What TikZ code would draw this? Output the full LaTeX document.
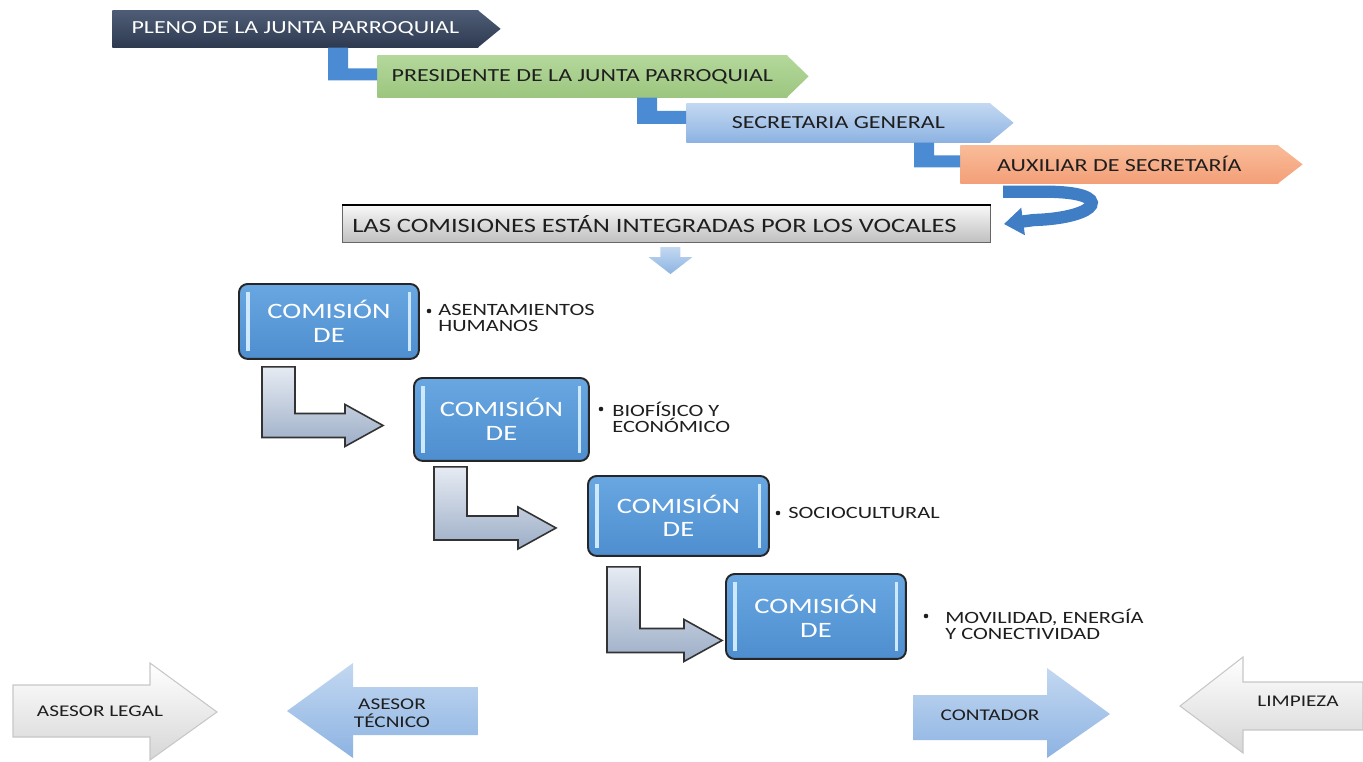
\documentclass[tikz,border=0pt]{standalone}
\usepackage{fontspec}
\setmainfont{Carlito}[FakeStretch=1.3]
\usetikzlibrary{calc,arrows.meta}
\definecolor{plenoT}{HTML}{4E5D76}
\definecolor{plenoB}{HTML}{2E3A50}
\definecolor{presT}{HTML}{B4D89B}
\definecolor{presB}{HTML}{9CC67F}
\definecolor{secT}{HTML}{C3D8F1}
\definecolor{secB}{HTML}{8DB3E2}
\definecolor{auxT}{HTML}{F9BC98}
\definecolor{auxB}{HTML}{F39F78}
\definecolor{lblue}{HTML}{4B8BD3}
\definecolor{ublue}{HTML}{3F7EC4}
\definecolor{darrow}{HTML}{8DB4E2}
\definecolor{comT}{HTML}{68A7E1}
\definecolor{comB}{HTML}{4E8ECF}
\definecolor{inner}{HTML}{CDE8FF}
\definecolor{bentT}{HTML}{E6EBF3}
\definecolor{bentB}{HTML}{9DAEC7}
\definecolor{txt}{HTML}{1E1E1E}
\tikzset{
  bar/.style={rectangle, inner sep=0pt, anchor=north west, text=txt,
    font=\fontsize{10.5}{12}\selectfont},
  lconn/.style={fill=lblue},
  combox/.style={rectangle, rounded corners=5pt, anchor=north west, draw=black!85,
    line width=1.1pt, top color=comT, bottom color=comB, text=white, align=center,
    font=\fontsize{12.5}{13.5}\selectfont, inner sep=0pt},
  innerline/.style={draw=inner, line width=1.8pt},
  bullettxt/.style={anchor=north west, inner sep=0pt, align=left, text=txt,
    font=\fontsize{9.8}{9}\selectfont},
  bulletdot/.style={circle, fill=txt, inner sep=0pt, minimum size=2.6pt},
  bentarrow/.style={draw=black!80, line width=0.9pt, top color=bentT, bottom color=bentB},
  blueshape/.style={top color=secT, bottom color=secB},
  whiteshape/.style={top color=white, bottom color=black!16, draw=black!22, line width=0.6pt},
  bottxt/.style={text=txt, align=center, inner sep=0pt, font=\fontsize{9.3}{10.5}\selectfont}
}
\newcommand{\innerlines}[1]{%
  \draw[innerline] ($(#1.north west)+(10,9)$) -- ($(#1.south west)+(10,-9)$);
  \draw[innerline] ($(#1.north east)+(-10,9)$) -- ($(#1.south east)+(-10,-9)$);}
\newcommand{\bentarr}[2]{%
  \path[bentarrow] (#1) -- ($(#1)+(33,0)$) |- ($(#2)+(-38,-12)$) -- ($(#2)+(-38,-21)$)
    -- (#2) -- ($(#2)+(-38,21)$) -- ($(#2)+(-38,12)$) -| (#1) -- cycle;}
\begin{document}
\begin{tikzpicture}[x=0.02cm,y=-0.02cm]
\useasboundingbox (0,0) rectangle (1363,761);

% ---- top bars ----
\node[bar, minimum width=7.32cm, minimum height=0.74cm, top color=plenoT, bottom color=plenoB, text=white] (pleno) at (112,10) {PLENO DE LA JUNTA PARROQUIAL};
\shade[top color=plenoT, bottom color=plenoB] ($(pleno.north east)+(-1,0)$) -- ($(pleno.east)+(22,0)$) -- ($(pleno.south east)+(-1,0)$) -- cycle;

\node[bar, minimum width=8.2cm, minimum height=0.84cm, top color=presT, bottom color=presB] (pres) at (377,55) {PRESIDENTE DE LA JUNTA PARROQUIAL};
\shade[top color=presT, bottom color=presB] ($(pres.north east)+(-1,0)$) -- ($(pres.east)+(21,0)$) -- ($(pres.south east)+(-1,0)$) -- cycle;

\node[bar, minimum width=6.08cm, minimum height=0.78cm, top color=secT, bottom color=secB] (sec) at (686,103) {SECRETARIA GENERAL};
\shade[top color=secT, bottom color=secB] ($(sec.north east)+(-1,0)$) -- ($(sec.east)+(23,0)$) -- ($(sec.south east)+(-1,0)$) -- cycle;

\node[bar, minimum width=6.36cm, minimum height=0.76cm, top color=auxT, bottom color=auxB] (aux) at (960,145) {AUXILIAR DE SECRETARÍA};
\shade[top color=auxT, bottom color=auxB] ($(aux.north east)+(-1,0)$) -- ($(aux.east)+(24,0)$) -- ($(aux.south east)+(-1,0)$) -- cycle;

% ---- L connectors ----
\coordinate (l1) at ($(pleno.south west)+(216,0)$);
\fill[lconn] (l1) -- ++(20,0) |- ($(pres.west)+(0,-8)$) -- ($(pres.west)+(0,4)$) -| (l1) -- cycle;
\coordinate (l2) at ($(pres.south west)+(260,0)$);
\fill[lconn] (l2) -- ++(20,0) |- ($(sec.west)+(0,-12)$) -- ($(sec.west)+(0,1)$) -| (l2) -- cycle;
\coordinate (l3) at ($(sec.south west)+(228,0)$);
\fill[lconn] (l3) -- ++(20,0) |- ($(aux.west)+(0,-9)$) -- ($(aux.west)+(0,3)$) -| (l3) -- cycle;

% ---- vocales box ----
\node[bar, minimum width=12.96cm, minimum height=0.74cm, top color=black!3, bottom color=black!25, draw=black!60, line width=0.6pt] (vocales) at (342,205) {};
\node[text=txt, inner sep=0pt, font=\fontsize{11.6}{13}\selectfont] (vocalestxt) at ($(vocales.center)+(-12,0)$) {LAS COMISIONES ESTÁN INTEGRADAS POR LOS VOCALES};
\draw[line width=1.3pt, black] (vocales.north west) -- (vocales.north east);

% ---- U-turn arrow ----
\coordinate (us) at ($(aux.south west)+(43,8)$);
\coordinate (ue) at ($(vocales.east)+(13,0)$);
\draw[ublue, line width=7pt, -{Triangle[length=11pt,width=15pt]}] (us) -- ++(42,0) .. controls +(72,0) and +(66,-2) .. ($(ue)+(30,-4)$) -- (ue);

% ---- down arrow ----
\shade[top color=secT, bottom color=darrow] ($(vocales.south)+(-6,4)$) -- ++(20,0) -- ++(0,10) -- ++(12,0) -- ++(-22,17) -- ++(-22,-17) -- ++(12,0) -- cycle;

% ---- commission boxes ----
\node[combox, minimum width=3.6cm, minimum height=1.5cm] (b1) at (238,283) {COMISIÓN\\DE};
\innerlines{b1}
\node[combox, minimum width=3.5cm, minimum height=1.66cm] (b2) at (413,377) {COMISIÓN\\DE};
\innerlines{b2}
\node[combox, minimum width=3.62cm, minimum height=1.6cm] (b3) at (587,475) {COMISIÓN\\DE};
\innerlines{b3}
\node[combox, minimum width=3.6cm, minimum height=1.7cm] (b4) at (725,573) {COMISIÓN\\DE};
\innerlines{b4}

% ---- bent arrows ----
\coordinate (a1) at ($(b1.south west)+(24,7)$);
\coordinate (t1) at ($(b2.west)+(-30,6)$);
\bentarr{a1}{t1}
\coordinate (a2) at ($(b2.south west)+(21,5)$);
\coordinate (t2) at ($(b3.west)+(-31,12)$);
\bentarr{a2}{t2}
\coordinate (a3) at ($(b3.south west)+(20,10)$);
\coordinate (t3) at ($(b4.west)+(-3,24)$);
\bentarr{a3}{t3}

% ---- bullet texts ----
\node[bulletdot] (d1b) at (429,311) {};
\node[bullettxt] (d1) at (438,304) {ASENTAMIENTOS\\HUMANOS};
\node[bulletdot] (d2b) at (601,409) {};
\node[bullettxt] (d2) at (612,402) {BIOFÍSICO Y\\ECONÓMICO};
\node[bulletdot] (d3b) at (778,513) {};
\node[bullettxt] (d3) at (788,507) {SOCIOCULTURAL};
\node[bulletdot] (d4b) at (926,616) {};
\node[bullettxt] (d4) at (945,609) {MOVILIDAD, ENERGÍA\\Y CONECTIVIDAD};

% ---- bottom arrows ----
\path[whiteshape] (13,685) -- (150,685) -- (150,663) -- (217,712) -- (150,760) -- (150,737) -- (13,737) -- cycle;
\node[bottxt] (legal) at (100,711) {ASESOR LEGAL};
\path[blueshape] (287,711) -- (353,663) -- (353,687) -- (478,687) -- (478,735) -- (353,735) -- (353,758) -- cycle;
\node[bottxt] (tecnico) at (392,713) {ASESOR\\TÉCNICO};
\path[blueshape] (913,695) -- (1047,695) -- (1047,668) -- (1110,714) -- (1047,758) -- (1047,740) -- (913,740) -- cycle;
\node[bottxt] (contador) at (990,715) {CONTADOR};
\path[whiteshape] (1180,706) -- (1243,657) -- (1243,682) -- (1363,682) -- (1363,730) -- (1243,730) -- (1243,753) -- cycle;
\node[bottxt] (limpieza) at (1298,701) {LIMPIEZA};
\end{tikzpicture}
\end{document}
